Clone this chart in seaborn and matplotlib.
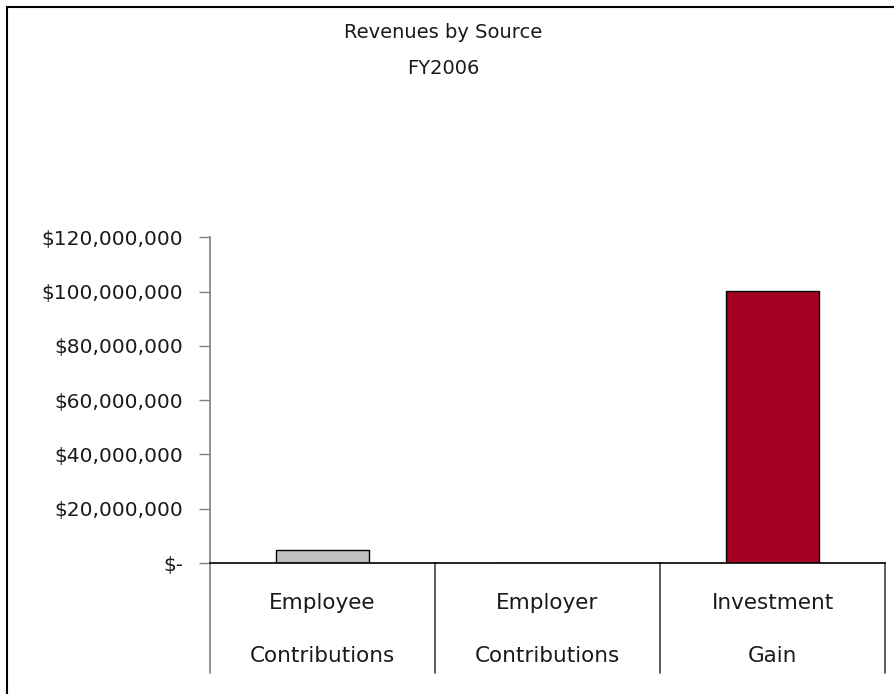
import matplotlib
matplotlib.use("Agg")
import matplotlib.pyplot as plt
import matplotlib.ticker as mticker
import matplotlib.transforms as mtransforms
from matplotlib.lines import Line2D
import seaborn as sns
import pandas as pd

# Revenue data, FY2006
sources = ["Employee Contributions", "Employer Contributions", "Investment Gain"]
label_top = ["Employee", "Employer", "Investment"]
label_bottom = ["Contributions", "Contributions", "Gain"]
revenues = [4_900_000, 0, 100_300_000]
bar_colors = ["#C0C0C0", "#C0C0C0", "#A50021"]
y_ticks = [0, 20_000_000, 40_000_000, 60_000_000, 80_000_000, 100_000_000, 120_000_000]

df = pd.DataFrame({"source": sources, "revenue": revenues})

sns.set_theme(style="white")
plt.rcParams["font.family"] = ["DejaVu Sans"]

W, H = 894, 694
fig = plt.figure(figsize=(W / 100, H / 100), dpi=100)
ax_left, ax_right, ax_top, ax_bottom = 210, 885, 237.3, 563
ax = fig.add_axes([ax_left / W, 1 - ax_bottom / H,
                   (ax_right - ax_left) / W, (ax_bottom - ax_top) / H])

sns.barplot(data=df, x="source", y="revenue", hue="source", palette=bar_colors,
            legend=False, errorbar=None, width=0.41, edgecolor="black",
            linewidth=1.0, saturation=1, ax=ax, zorder=3)

ax.set_xlim(-0.5, 2.5)
ax.set_ylim(0, 120_000_000)
ax.set_yticks(y_ticks)


def money(v, _pos):
    return "$-" if v == 0 else f"${v:,.0f}"


ax.yaxis.set_major_formatter(mticker.FuncFormatter(money))
ax.tick_params(axis="y", left=True, length=8, width=1, color="#808080",
               pad=11.5, labelsize=14.5, labelcolor="#1a1a1a", direction="out")
ax.tick_params(axis="x", bottom=False, labelbottom=False)
ax.set_xlabel("")
ax.set_ylabel("")

for side in ["top", "right"]:
    ax.spines[side].set_visible(False)
ax.spines["left"].set_color("#808080")
ax.spines["left"].set_linewidth(1.2)
ax.spines["bottom"].set_color("black")
ax.spines["bottom"].set_linewidth(1.2)
ax.spines["bottom"].set_zorder(4)

# category dividers hanging below the axis
trans = mtransforms.blended_transform_factory(ax.transData, ax.transAxes)
div_depth = (673 - ax_bottom) / (ax_bottom - ax_top)
for i, xb in enumerate([-0.5, 0.5, 1.5, 2.5]):
    ax.add_line(Line2D([xb, xb], [0, -div_depth], transform=trans,
                       color="#808080" if i == 0 else "#404040",
                       linewidth=1.2, clip_on=False))

# two-line category labels
y1 = -(603 - ax_bottom) / (ax_bottom - ax_top)
y2 = -(656 - ax_bottom) / (ax_bottom - ax_top)
for i in range(len(sources)):
    ax.text(i, y1, label_top[i], transform=trans, ha="center", va="center",
            fontsize=15.5, color="#1a1a1a")
    ax.text(i, y2, label_bottom[i], transform=trans, ha="center", va="center",
            fontsize=15.5, color="#1a1a1a")

# title
fig.text(443 / W, 1 - 32 / H, "Revenues by Source", ha="center", va="center",
         fontsize=14, color="#1a1a1a")
fig.text(443 / W, 1 - 68 / H, "FY2006", ha="center", va="center",
         fontsize=14, color="#1a1a1a")

# chart frame (left and top edges)
fig.add_artist(Line2D([7 / W, 7 / W], [0, 1 - 6.5 / H], transform=fig.transFigure,
                      color="black", linewidth=1.5))
fig.add_artist(Line2D([7 / W, 1], [1 - 6.5 / H, 1 - 6.5 / H], transform=fig.transFigure,
                      color="black", linewidth=1.5))

fig.savefig("out.png", dpi=100)
